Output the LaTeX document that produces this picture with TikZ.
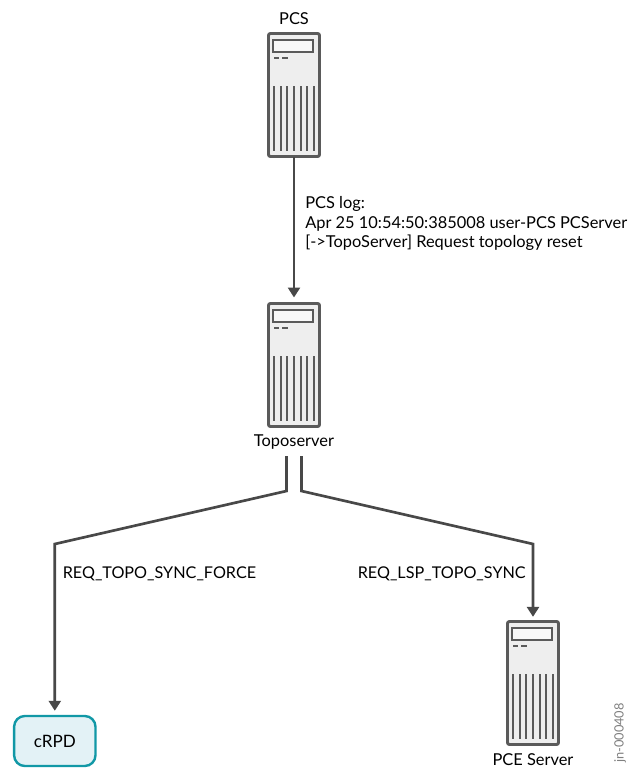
\documentclass[tikz,border=0pt]{standalone}
\usepackage{fontspec}
\setmainfont{Lato}
\usepackage{tikz}
\usetikzlibrary{arrows.meta,positioning,calc}

\definecolor{linegray}{HTML}{484848}
\definecolor{servergray}{HTML}{5A5A5A}
\definecolor{serverfill}{HTML}{EEEEEE}
\definecolor{tealline}{HTML}{1198A6}
\definecolor{tealfill}{HTML}{E3F2F6}

\begin{document}
\begin{tikzpicture}[
    x=0.75pt, y=-0.75pt,
    serverbox/.style={draw=servergray, fill=serverfill, line width=2.2pt, rounded corners=1.5pt, minimum width=38.25pt, minimum height=92.25pt, inner sep=0pt, outer sep=0pt},
    routerbox/.style={draw=tealline, fill=tealfill, line width=1.8pt, rounded corners=8pt, minimum width=61pt, minimum height=37.5pt, inner sep=0pt, font=\fontsize{12.8}{14}\selectfont},
    arrow/.style={-{Triangle[length=7.5pt,width=9pt]}, draw=linegray, line width=2pt},
    lbl/.style={font=\fontsize{12.3}{14.7}\selectfont, inner sep=0pt, align=left},
    msg/.style={font=\fontsize{12.15}{14.7}\selectfont, inner sep=0pt, anchor=west},
    server/.pic={
        \node[serverbox] (-box) at (0,0) {};
        \draw[draw=servergray, fill=white!60!serverfill, line width=1.4pt] (-21,-55) rectangle (19,-43);
        \draw[draw=servergray, line width=1.2pt] (-20,-37) -- (-15,-37) (-12,-37) -- (-6,-37);
        \foreach \i in {0,...,6}
            \draw[draw=servergray, line width=1.5pt] (-20+6.67*\i,-9) -- (-20+6.67*\i,56);
    }
]
    \useasboundingbox (0,0) rectangle (630,768);

    % Servers
    \pic (pcs) at (294,95) {server};
    \pic (topo) at (294,365) {server};
    \pic (pce) at (533,683) {server};

    % Router
    \node[routerbox] (crpd) at (54.8,741) {cRPD};

    % Server names
    \node[lbl] (pcsname) at (294,19) {PCS};
    \node[lbl] (toponame) at (294,442.5) {Toposerver};
    \node[lbl] (pcename) at (533,760) {PCE Server};

    % Free ends of the two branches
    \coordinate (leftstart) at (286.5,456);
    \coordinate (leftbend) at (286.5,491);
    \coordinate (leftdrop) at (54.8,544);
    \coordinate (rightstart) at (301.5,456);
    \coordinate (rightbend) at (301.5,491);
    \coordinate (rightdrop) at (533,544);

    % Arrows
    \draw[arrow, shorten >=4.5pt] (pcs-box.south) -- (topo-box.north);
    \draw[arrow, shorten >=3pt] (leftstart) -- (leftbend) -- (leftdrop) -- (crpd.north);
    \draw[arrow, shorten >=3.5pt] (rightstart) -- (rightbend) -- (rightdrop) -- (pce-box.north);

    % Labels on arrows
    \node[lbl, anchor=west] (pcslog) at (305,223.5) {PCS log:\\Apr 25 10:54:50:385008 user-PCS PCServer\\{[}->TopoServer] Request topology reset};
    \node[msg] (forcelabel) at (62.5,574) {REQ\_TOPO\_SYNC\_FORCE};
    \node[msg] (lsplabel) at (357.5,574) {REQ\_LSP\_TOPO\_SYNC};

    % Figure number
    \node[font=\fontsize{9.6}{12}\selectfont, text=gray, rotate=90, inner sep=0pt] (fignum) at (620,733) {jn-000408};
\end{tikzpicture}
\end{document}
